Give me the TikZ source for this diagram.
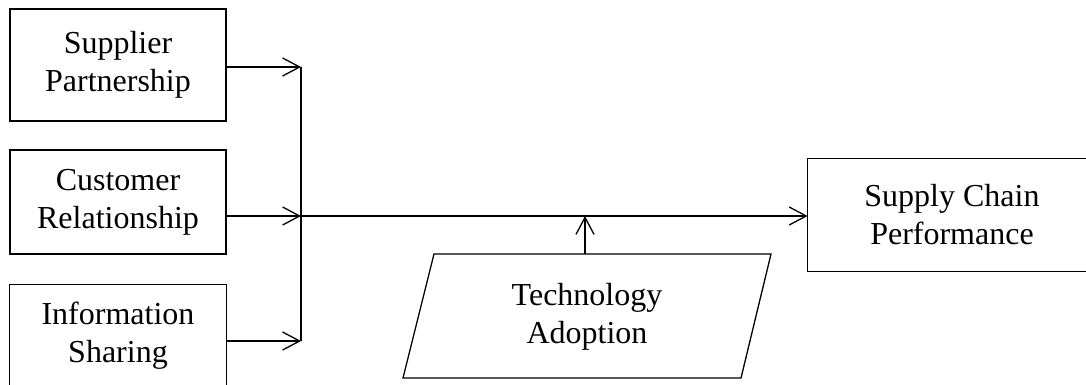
\documentclass[tikz,border=0pt]{standalone}
\usepackage{fontspec}
\setmainfont{Liberation Serif}
\usetikzlibrary{arrows.meta}
\begin{document}
\begin{tikzpicture}[x=0.5pt,y=-0.5pt,
  font=\fontsize{16}{19}\selectfont,
  box/.style={draw,line width=0.65pt,inner sep=0pt,align=center,minimum width=108pt},
  frame/.style={line width=0.65pt},
  conn/.style={line width=0.65pt,-{Straight Barb[length=8.5pt,width=9pt]}}]
\useasboundingbox (0,0) rectangle (1086,385);
\clip (0,0) rectangle (1086,385);
% boxes
\node[box,minimum height=56pt] (b1) at (118,65) {Supplier\\Partnership};
\node[box,minimum height=52pt] (b2) at (118,202) {Customer\\Relationship};
\node[inner sep=0pt,align=center,minimum width=108pt,minimum height=51pt] (b3) at (118,336) {Information\\Sharing};
\draw[frame] ([yshift=-10pt]b3.south west) -- (b3.north west) -- (b3.north east) -- ([yshift=-10pt]b3.south east);
\node[inner sep=0pt,align=center,minimum width=144pt,minimum height=56pt] (perf) at (952,215) {Supply Chain\\Performance};
\draw[frame] ([xshift=30pt]perf.north east) -- (perf.north west) -- (perf.south west) -- ([xshift=30pt]perf.south east);
% parallelogram
\draw[frame] (434,254) -- (771,254) -- (741,378) -- (403,378) -- cycle;
\node[align=center] (tech) at (587,317) {Technology\\Adoption};
% bus coordinates
\coordinate (p1) at (301,67);
\coordinate (p2) at (301,216);
\coordinate (p3) at (301,341);
\coordinate (ta) at (585,254);
\coordinate (tb) at (585,216);
\draw[line width=1pt] (p1) -- (p3);
\draw[conn] (b1.east |- p1) -- (p1);
\draw[conn] (b2.east |- p2) -- (p2);
\draw[conn] (b3.east |- p3) -- (p3);
\draw[conn] (p2) -- (p2 -| perf.west);
\draw[conn] (ta) -- (tb);
\end{tikzpicture}
\end{document}
